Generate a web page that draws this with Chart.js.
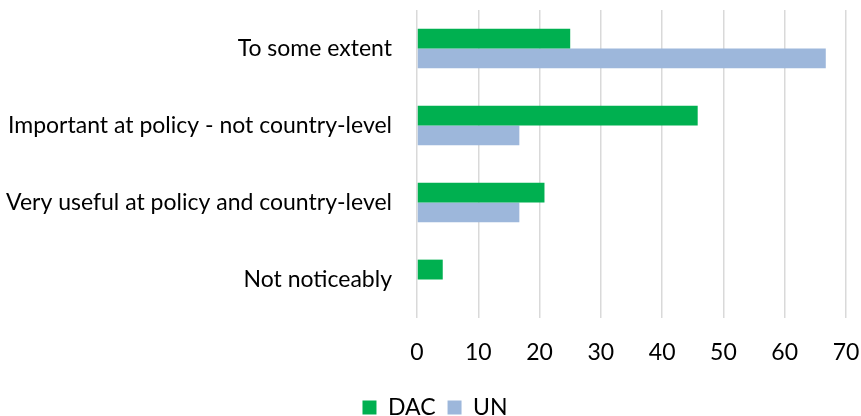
<!DOCTYPE html>
<html>
<head>
<meta charset="utf-8">
<script src="https://cdn.jsdelivr.net/npm/chart.js@4"></script>
<style>
  html, body { margin: 0; padding: 0; background: #fff; }
  #wrap { width: 861px; height: 416px; }
</style>
</head>
<body>
<div id="wrap"><canvas id="canvas"></canvas></div>
<script>
// Answers, top to bottom
var categories = [
   'To some extent',
   'Important at policy - not country-level',
   'Very useful at policy and country-level',
   'Not noticeably'
];
var dacValues = [25, 45.8, 20.8, 4.2];
var unValues = [66.7, 16.7, 16.7, 0];
var xTicks = [0, 10, 20, 30, 40, 50, 60, 70];

var FONT = 'Lato, "Open Sans", sans-serif';
var FONT_SIZE = 23;

// nudge the legend a bit right so it sits under the middle of the figure
var legendShift = {
   id: 'legendShift',
   afterLayout: function (chart) {
      if (chart.legend) {
         chart.legend.left += 12;
         chart.legend.right += 12;
      }
   }
};

window.onload = function () {
   var ctx = document.getElementById('canvas').getContext('2d');
   window.myBar = new Chart(ctx, {
      type: 'bar',
      data: {
         labels: categories,
         datasets: [{
            label: 'DAC',
            data: dacValues,
            backgroundColor: '#00b050',
            borderWidth: 0
         }, {
            label: 'UN',
            data: unValues,
            backgroundColor: '#9db7db',
            borderWidth: 0
         }]
      },
      plugins: [legendShift],
      options: {
         indexAxis: 'y',
         responsive: true,
         maintainAspectRatio: false,
         animation: false,
         datasets: {
            bar: { categoryPercentage: 0.516, barPercentage: 1 }
         },
         layout: { padding: { top: 10, right: 15, left: 0, bottom: -13 } },
         plugins: {
            legend: {
               position: 'bottom',
               labels: {
                  color: '#000',
                  font: { family: FONT, size: FONT_SIZE },
                  boxWidth: 14,
                  boxHeight: 14,
                  padding: 12
               }
            },
            tooltip: { enabled: false }
         },
         scales: {
            x: {
               min: 0,
               max: 70,
               afterBuildTicks: function (axis) {
                  axis.ticks = xTicks.map(function (v) { return { value: v }; });
               },
               afterFit: function (axis) {
                  axis.height = 66;
                  axis.paddingLeft = 0;
                  axis.paddingRight = 0;
               },
               grid: { color: '#d9d9d9', lineWidth: 1.5, drawTicks: false },
               border: { display: false },
               ticks: {
                  color: '#000',
                  padding: 21,
                  font: { family: FONT, size: FONT_SIZE }
               }
            },
            y: {
               grid: { display: false, drawTicks: false },
               border: { display: false },
               afterFit: function (axis) {
                  axis.width = 417;
                  // tick padding would otherwise be added above and below the plot
                  axis.paddingTop = 0;
                  axis.paddingBottom = 0;
               },
               ticks: {
                  color: '#000',
                  padding: 25,
                  font: { family: FONT, size: FONT_SIZE }
               }
            }
         }
      }
   });
};
</script>
</body>
</html>
